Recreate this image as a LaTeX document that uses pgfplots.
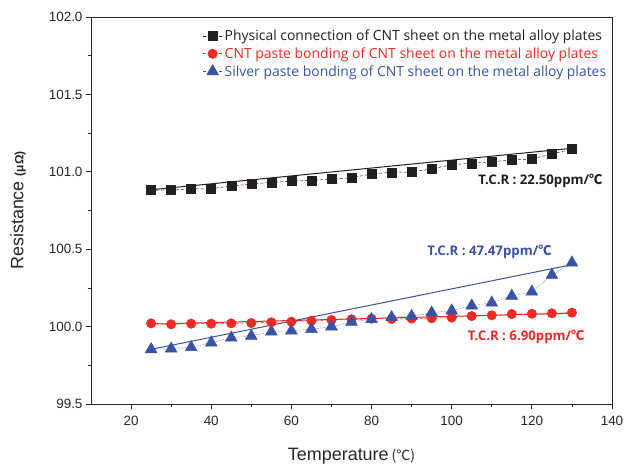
\documentclass[border=0pt]{standalone}
\usepackage{fontspec}
\setmainfont{Liberation Sans}
\newfontfamily\osans{Open Sans}
\newfontfamily\cjk{Noto Sans CJK KR}
\usepackage{pgfplots}
\pgfplotsset{compat=1.18}
\definecolor{cblack}{HTML}{231F20}
\definecolor{cred}{HTML}{EE2A24}
\definecolor{cblue}{HTML}{3A53A4}
\begin{document}
\begin{tikzpicture}
\begin{axis}[
  scale only axis, width=521bp, height=387bp,
  xmin=10, xmax=140, ymin=99.5, ymax=102.0,
  xtick={20,40,60,80,100,120,140}, minor x tick num=1,
  ytick={99.5,100.0,100.5,101.0,101.5,102.0}, minor y tick num=1,
  yticklabel style={/pgf/number format/.cd, fixed, fixed zerofill, precision=1},
  /pgf/number format/assume math mode=true,
  tick label style={font=\fontsize{13.5}{14}\selectfont, text=black!85},
  xticklabel shift=4bp,
  tick align=outside, xtick pos=left, ytick pos=left,
  major tick length=5bp, minor tick length=3bp,
  axis line style={line width=0.9bp, black!85},
  every tick/.style={line width=0.8bp, black!85},
  xlabel={Temperature\,{\cjk\fontsize{14}{14}\selectfont (℃)}},
  ylabel={Resistance {\bfseries\fontsize{12}{12}\selectfont (μΩ)}},
  xlabel shift=15bp, ylabel shift=16bp,
  label style={font=\fontsize{18}{18}\selectfont, text=black!85},
  legend style={at={(0.993,0.972)}, anchor=north east, draw=none, fill=none,
    font=\osans\fontsize{14}{14}\selectfont, inner sep=0pt, row sep=1.5bp,
    cells={anchor=west}},
  legend image code/.code={%
    \draw[#1,solid,line width=0.8bp] (0cm,0cm)--(0.12cm,0cm);
    \draw[#1,solid,line width=0.8bp] (0.56cm,0cm)--(0.68cm,0cm);
    \draw[#1,draw=none] plot[only marks] coordinates {(0.34cm,0cm)};},
]
% Physical connection
\addplot[cblack, densely dashed, line width=0.5bp, mark=square*, mark size=4.5bp, mark options={solid, fill=cblack}] coordinates {
(25,100.882) (30,100.882) (35,100.889) (40,100.891) (45,100.908) (50,100.921)
(55,100.932) (60,100.939) (65,100.945) (70,100.952) (75,100.962) (80,100.986)
(85,100.997) (90,100.999) (95,101.018) (100,101.046) (105,101.055) (110,101.065)
(115,101.076) (120,101.083) (125,101.115) (130,101.147)};
\addlegendentry{\textcolor{cblack}{Physical connection of CNT sheet on the metal alloy plates}}
% CNT paste
\addplot[cred, densely dashed, line width=0.5bp, mark=*, mark size=4.7bp, mark options={solid, fill=cred}] coordinates {
(25,100.021) (30,100.015) (35,100.019) (40,100.019) (45,100.021) (50,100.023)
(55,100.028) (60,100.032) (65,100.038) (70,100.043) (75,100.047) (80,100.051)
(85,100.049) (90,100.052) (95,100.054) (100,100.058) (105,100.068) (110,100.073)
(115,100.081) (120,100.083) (125,100.086) (130,100.090)};
\addlegendentry{\textcolor{cred}{CNT paste bonding of CNT sheet on the metal alloy plates}}
% Silver paste
\addplot[cblue, densely dotted, line width=0.5bp, mark=triangle*, mark size=6.8bp, mark options={solid, fill=cblue}] coordinates {
(25,99.853) (30,99.857) (35,99.866) (40,99.896) (45,99.928) (50,99.939)
(55,99.967) (60,99.973) (65,99.983) (70,100.000) (75,100.030) (80,100.047)
(85,100.060) (90,100.068) (95,100.090) (100,100.103) (105,100.135) (110,100.154)
(115,100.198) (120,100.225) (125,100.333) (130,100.413)};
\addlegendentry{\textcolor{cblue}{Silver paste bonding of CNT sheet on the metal alloy plates}}
% fitted lines
\addplot[cblack, line width=1bp, forget plot] coordinates {(25,100.884) (130,101.152)};
\addplot[cred, line width=1bp, forget plot] coordinates {(25,100.016) (130,100.086)};
\addplot[cblue, line width=1bp, forget plot] coordinates {(25,99.853) (130,100.400)};
\node[anchor=east, text=cblack, font=\osans\bfseries\fontsize{13.3}{13}\selectfont] at (axis cs:138.5,100.94) {T.C.R : 22.50ppm/{\cjk ℃}};
\node[anchor=east, text=cblue, font=\osans\bfseries\fontsize{13.3}{13}\selectfont] at (axis cs:125.8,100.48) {T.C.R : 47.47ppm/{\cjk ℃}};
\node[anchor=east, text=cred, font=\osans\bfseries\fontsize{13.3}{13}\selectfont] at (axis cs:134,99.933) {T.C.R : 6.90ppm/{\cjk ℃}};
\end{axis}
\pgfresetboundingbox
\path[use as bounding box] ([shift={(-91bp,-60bp)}]current axis.south west) rectangle ([shift={(15bp,17bp)}]current axis.north east);
\end{tikzpicture}
\end{document}
